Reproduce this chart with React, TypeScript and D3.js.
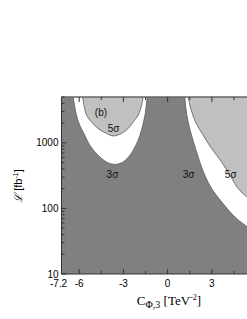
import React, { useRef, useEffect } from 'react'
import * as d3 from 'd3'

// curves: C (TeV^-2) and luminosity (fb^-1)
const left3x = [-6.41, -6.18, -5.96, -5.62, -5.28, -4.72, -4.15, -3.58, -3.02, -2.56, -2.16, -1.88, -1.54, -1.39]
const left3L = [5000, 2630, 1850, 1306, 918, 647, 512, 468, 512, 647, 918, 1306, 2630, 5000]
const left5x = [-5.77, -5.5, -5.16, -4.72, -4.15, -3.7, -3.13, -2.68, -2.34, -2.0, -1.77, -1.66]
const left5L = [5000, 2630, 2080, 1650, 1390, 1275, 1390, 1650, 2080, 2630, 3730, 5000]
const right3x = [1.17, 1.24, 1.39, 1.62, 1.89, 2.18, 2.52, 2.98, 3.66, 4.44, 5.24, 7.2]
const right3L = [5000, 3330, 2080, 1306, 818, 512, 321, 201, 126, 79, 56, 32]
const right5x = [1.39, 1.57, 1.89, 2.41, 2.98, 3.66, 4.22, 4.78, 5.37, 7.2]
const right5L = [5000, 3330, 2080, 1306, 818, 512, 321, 201, 150, 70]

const xMajor = [-6, -3, 0, 3, 6]
const xMinor = [-4.5, -1.5, 1.5, 4.5]
const xLabels = [-7.2, -6, -3, 0, 3]
const yMajor = [10, 100, 1000]
const yMinor = [20, 30, 40, 50, 60, 70, 80, 90, 200, 300, 400, 500, 600, 700, 800, 900, 2000, 3000, 4000, 5000]

const labels = [
  { t: '(b)', x: -4.94, L: 2600 },
  { t: '5σ', x: -4.07, L: 1480 },
  { t: '3σ', x: -4.14, L: 292 },
  { t: '3σ', x: 1.02, L: 292 },
  { t: '5σ', x: 3.88, L: 292 }
]

const width = 247
const height = 319

export default function App() {
  const svgRef = useRef<SVGSVGElement>(null)

  useEffect(() => {
    if (!svgRef.current) return
    const svg = d3.select(svgRef.current)
    svg.selectAll('*').remove()

    const x = d3.scaleLinear().domain([-7.2, 7.2]).range([61.5, 273.8])
    const y = d3.scaleLog().domain([10, 5000]).range([274, 97])
    const font = 'Liberation Sans, Arial, sans-serif'

    svg.append('defs').append('clipPath').attr('id', 'plot')
      .append('rect')
      .attr('x', x(-7.2)).attr('y', y(5000))
      .attr('width', x(7.2) - x(-7.2)).attr('height', y(10) - y(5000))

    const g = svg.append('g').attr('clip-path', 'url(#plot)')

    // фон
    g.append('rect')
      .attr('x', x(-7.2)).attr('y', y(5000))
      .attr('width', x(7.2) - x(-7.2)).attr('height', y(10) - y(5000))
      .attr('fill', '#808080')

    const pts = (xs: number[], ls: number[]) => xs.map((v, i) => [v, ls[i]] as [number, number])

    const area = d3.area<[number, number]>()
      .x(d => x(d[0]))
      .y0(y(5000))
      .y1(d => y(d[1]))
      .curve(d3.curveCatmullRom.alpha(0.5))
    const line = d3.line<[number, number]>()
      .x(d => x(d[0]))
      .y(d => y(d[1]))
      .curve(d3.curveCatmullRom.alpha(0.5))

    const regions: [number[], number[], string][] = [
      [left3x, left3L, '#ffffff'],
      [left5x, left5L, '#c0c0c0'],
      [right3x, right3L, '#ffffff'],
      [right5x, right5L, '#c0c0c0']
    ]
    regions.forEach(([xs, ls, fill]) => {
      const p = pts(xs, ls)
      g.append('path').attr('d', area(p)).attr('fill', fill)
      g.append('path').attr('d', line(p)).attr('fill', 'none')
        .attr('stroke', '#5a5a5a').attr('stroke-width', 0.8)
    })

    labels.forEach(l => {
      g.append('text')
        .attr('x', x(l.x)).attr('y', y(l.L))
        .attr('font-family', font).attr('font-size', 10)
        .attr('fill', '#111')
        .text(l.t)
    })

    // оси
    const ax = svg.append('g').attr('stroke', '#333').attr('stroke-width', 1)
    ax.append('line').attr('x1', x(-7.2)).attr('x2', x(7.2)).attr('y1', y(10)).attr('y2', y(10))
    ax.append('line').attr('x1', x(-7.2)).attr('x2', x(7.2)).attr('y1', y(5000)).attr('y2', y(5000))
      .attr('stroke', '#666').attr('stroke-width', 1.5)
    ax.append('line').attr('x1', x(-7.2)).attr('x2', x(-7.2)).attr('y1', y(10)).attr('y2', y(5000))

    xMajor.forEach(v => {
      ax.append('line').attr('x1', x(v)).attr('x2', x(v)).attr('y1', y(10)).attr('y2', y(10) - 5)
      ax.append('line').attr('x1', x(v)).attr('x2', x(v)).attr('y1', y(5000)).attr('y2', y(5000) + 5)
    })
    xMinor.forEach(v => {
      ax.append('line').attr('x1', x(v)).attr('x2', x(v)).attr('y1', y(10)).attr('y2', y(10) - 3)
      ax.append('line').attr('x1', x(v)).attr('x2', x(v)).attr('y1', y(5000)).attr('y2', y(5000) + 3)
    })
    yMajor.forEach(v => {
      ax.append('line').attr('x1', x(-7.2)).attr('x2', x(-7.2) + 5).attr('y1', y(v)).attr('y2', y(v))
    })
    yMinor.forEach(v => {
      ax.append('line').attr('x1', x(-7.2)).attr('x2', x(-7.2) + 3).attr('y1', y(v)).attr('y2', y(v))
    })

    const tl = svg.append('g').attr('font-family', font).attr('font-size', 10).attr('fill', '#000')
    xLabels.forEach(v => {
      tl.append('text')
        .attr('x', v === -7.2 ? x(v) - 3 : x(v)).attr('y', y(10) + 13)
        .attr('text-anchor', 'middle')
        .text(String(v))
    })
    yMajor.forEach(v => {
      tl.append('text')
        .attr('x', x(-7.2) - 3).attr('y', y(v)).attr('dy', '0.35em')
        .attr('text-anchor', 'end')
        .text(String(v))
    })

    // подпись оси Y
    const yl = svg.append('text')
      .attr('transform', `translate(22,${186}) rotate(-90)`)
      .attr('text-anchor', 'middle')
      .attr('font-family', font).attr('font-size', 11)
    yl.append('tspan').attr('font-family', 'DejaVu Serif').attr('font-style', 'italic').text('ℒ')
    yl.append('tspan').text(' [fb')
    yl.append('tspan').attr('dy', -4).attr('font-size', 7).text('-1')
    yl.append('tspan').attr('dy', 4).text(']')

    // подпись оси X
    const xl = svg.append('text')
      .attr('x', 169).attr('y', 305)
      .attr('text-anchor', 'middle')
      .attr('font-family', 'Liberation Serif, Times New Roman, serif').attr('font-size', 13)
    xl.append('tspan').text('C')
    xl.append('tspan').attr('dy', 3).attr('font-size', 10).text('Φ,3')
    xl.append('tspan').attr('dy', -3).text(' [TeV')
    xl.append('tspan').attr('dy', -5).attr('font-size', 8).text('-2')
    xl.append('tspan').attr('dy', 5).text(']')
  }, [])

  return (
    <svg
      ref={svgRef}
      width={width}
      height={height}
      style={{ position: 'absolute', left: 0, top: 0, background: '#fff' }}
    />
  )
}
